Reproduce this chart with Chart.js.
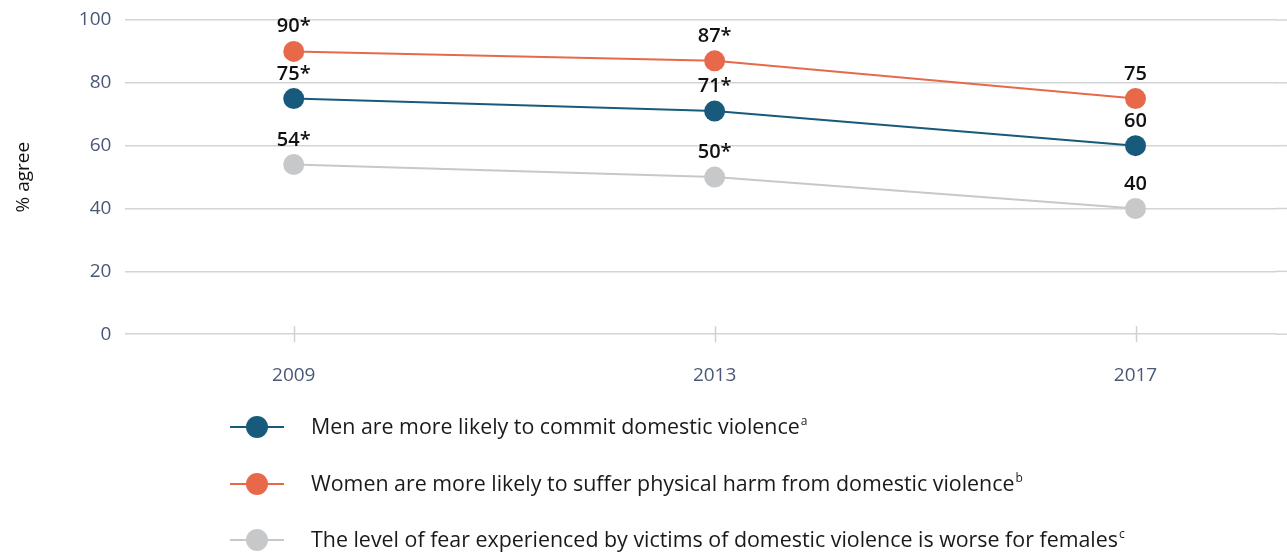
<!DOCTYPE html>
<html><head><meta charset="utf-8">
<script src="https://cdn.jsdelivr.net/npm/chart.js@4/dist/chart.umd.min.js"></script>
<style>html,body{margin:0;padding:0;background:#fff;overflow:hidden;}canvas{display:block;}</style>
</head><body><canvas id="c" width="1287" height="556" style="width:1287px;height:556px;"></canvas>
<script>
const years = [2009, 2013, 2017];
const menCommit = [75, 71, 60];
const womenHarm = [90, 87, 75];
const fearWorse = [54, 50, 40];
const menLabels = ['75*', '71*', '60'];
const womenLabels = ['90*', '87*', '75'];
const fearLabels = ['54*', '50*', '40'];
const seriesNames = [
  'Men are more likely to commit domestic violence',
  'Women are more likely to suffer physical harm from domestic violence',
  'The level of fear experienced by victims of domestic violence is worse for females'
];
const seriesSup = ['a', 'b', 'c'];
const yTicks = [0, 20, 40, 60, 80, 100];
const yTitle = '% agree';

const FONT = '"Open Sans", "Noto Sans", sans-serif';
const colors = ['#175a7c', '#e8694a', '#c7c8ca'];
const gridColor = '#d3d4d6';
const allValues = [menCommit, womenHarm, fearWorse];
const allLabels = [menLabels, womenLabels, fearLabels];

const datasets = allValues.map((vals, i) => ({
  label: seriesNames[i],
  data: years.map((y, j) => ({ x: y, y: vals[j] })),
  borderColor: colors[i],
  backgroundColor: colors[i],
  pointBackgroundColor: colors[i],
  pointBorderWidth: 0,
  pointRadius: 10.5,
  pointHoverRadius: 10.5,
  borderWidth: 2,
  tension: 0,
  labels: allLabels[i]
}));

const labelPlugin = {
  id: 'valueLabels',
  afterDatasetsDraw(chart) {
    const ctx = chart.ctx;
    ctx.save();
    ctx.font = '600 20px ' + FONT;
    ctx.fillStyle = '#111111';
    ctx.textAlign = 'center';
    ctx.textBaseline = 'alphabetic';
    chart.data.datasets.forEach((ds, i) => {
      const meta = chart.getDatasetMeta(i);
      meta.data.forEach((pt, j) => {
        ctx.fillText(ds.labels[j], pt.x, pt.y - 19);
      });
    });
    ctx.restore();
  }
};

const tickMarkPlugin = {
  id: 'xTickMarks',
  beforeDatasetsDraw(chart) {
    const ctx = chart.ctx;
    const xs = chart.scales.x, ys = chart.scales.y;
    const y0 = ys.getPixelForValue(0);
    ctx.save();
    // extend horizontal gridlines to the right edge of the canvas
    ctx.strokeStyle = gridColor;
    ctx.lineWidth = 1.5;
    yTicks.forEach(v => {
      const y = ys.getPixelForValue(v);
      ctx.beginPath();
      ctx.moveTo(chart.chartArea.right - 1, y);
      ctx.lineTo(chart.width, y);
      ctx.stroke();
    });
    ctx.strokeStyle = '#cfd0d2';
    years.forEach(yr => {
      const x = Math.round(xs.getPixelForValue(yr)) + 0.5;
      ctx.beginPath();
      ctx.moveTo(x, y0 - 8);
      ctx.lineTo(x, y0 + 8);
      ctx.stroke();
    });
    ctx.restore();
  }
};

const legendPlugin = {
  id: 'customLegend',
  afterDraw(chart) {
    const ctx = chart.ctx;
    ctx.save();
    const lineX0 = 230, lineX1 = 284, cx = 257, textX = 311;
    const rows = [427, 484, 540];
    chart.data.datasets.forEach((ds, i) => {
      const y = rows[i];
      ctx.strokeStyle = colors[i];
      ctx.lineWidth = 2;
      ctx.beginPath();
      ctx.moveTo(lineX0, y);
      ctx.lineTo(lineX1, y);
      ctx.stroke();
      ctx.fillStyle = colors[i];
      ctx.beginPath();
      ctx.arc(cx, y, 11, 0, Math.PI * 2);
      ctx.fill();
      ctx.fillStyle = '#1a1a1a';
      ctx.font = '21.4px ' + FONT;
      ctx.textAlign = 'left';
      ctx.textBaseline = 'middle';
      ctx.fillText(ds.label, textX, y + 1);
      const w = ctx.measureText(ds.label).width;
      ctx.font = '12px ' + FONT;
      ctx.fillText(seriesSup[i], textX + w + 1, y - 5);
    });
    ctx.restore();
  }
};

new Chart(document.getElementById('c'), {
  type: 'line',
  data: { datasets },
  options: {
    responsive: false,
    maintainAspectRatio: false,
    animation: false,
    devicePixelRatio: 1,
    layout: { padding: { top: 20, right: 0, bottom: 139, left: 12 } },
    plugins: { legend: { display: false }, tooltip: { enabled: false } },
    scales: {
      x: {
        type: 'linear',
        min: 2007.4,
        max: 2018.34,
        afterBuildTicks(scale) { scale.ticks = years.map(v => ({ value: v })); },
        grid: { display: false, drawTicks: false },
        border: { display: false },
        ticks: {
          padding: 30,
          color: '#4a5878',
          font: { family: FONT, size: 19 },
          callback: v => String(v)
        }
      },
      y: {
        min: 0,
        max: 100,
        afterBuildTicks(scale) { scale.ticks = yTicks.map(v => ({ value: v })); },
        grid: { color: gridColor, lineWidth: 1.5, drawTicks: true, tickLength: 14, tickColor: 'rgba(0,0,0,0)' },
        border: { display: false },
        ticks: {
          padding: 0,
          color: '#4a5878',
          font: { family: FONT, size: 19 }
        },
        title: {
          display: true,
          text: yTitle,
          color: '#111111',
          font: { family: FONT, size: 19 },
          padding: { top: 0, bottom: 44 }
        }
      }
    }
  },
  plugins: [tickMarkPlugin, labelPlugin, legendPlugin]
});
</script>
</body></html>
